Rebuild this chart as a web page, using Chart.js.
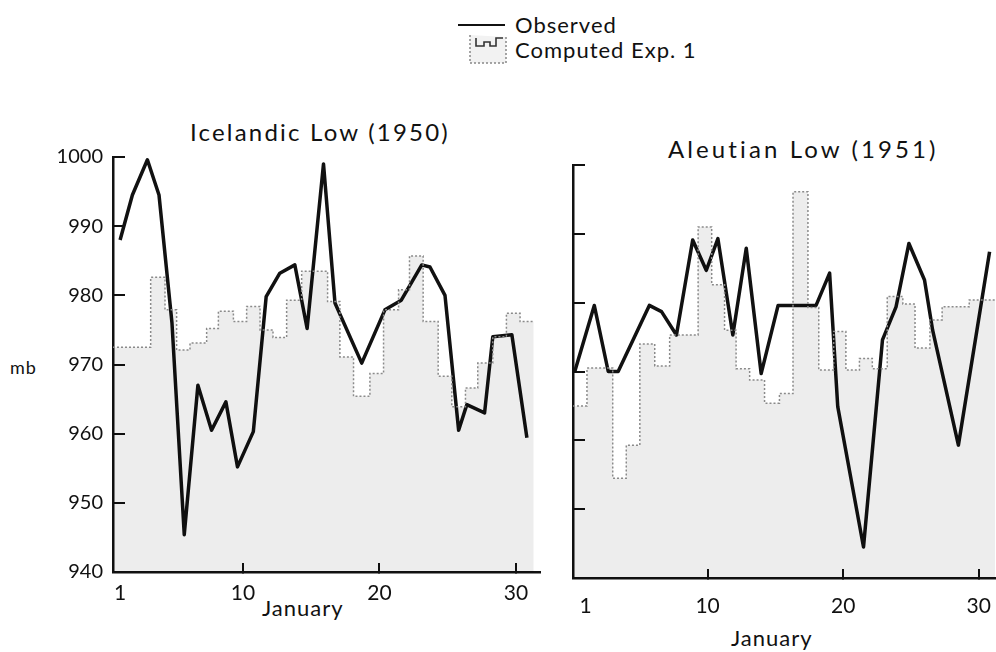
<!DOCTYPE html>
<html lang="en">
<head>
    <meta charset="UTF-8">
    <title>Icelandic Low and Aleutian Low, January</title>
    <style>
        body {
            margin: 0;
            width: 996px;
            height: 652px;
            background: #fff;
            position: relative;
            overflow: hidden;
            font-family: 'Lato', 'DejaVu Sans', sans-serif;
            color: #111;
        }
        .panel {
            position: absolute;
            top: 0;
        }
        .txt {
            position: absolute;
            white-space: nowrap;
            line-height: 1;
        }
        .title { font-size: 24px; }
        .xlabel { font-size: 22px; letter-spacing: 1px; }
        .legend { font-size: 22px; letter-spacing: 1px; }
    </style>
    <script src="https://cdn.jsdelivr.net/npm/chart.js"></script>
</head>
<body>
    <!-- legend -->
    <div class="txt" style="left:458px; top:24px; width:47px; border-top:2px solid #111;"></div>
    <div class="txt legend" style="left:515px; top:14px;">Observed</div>
    <svg class="txt" style="left:466px; top:33px;" width="44" height="32">
        <path d="M4 2 L4 30 L40 30 L40 4" fill="#f2f2f2" stroke="#888" stroke-width="1.5" stroke-dasharray="2 2"/>
        <path d="M10 5 L10 13 L18 13 L18 9 L24 9 L24 13 L30 13 L30 5 L37 5" fill="none" stroke="#333" stroke-width="1.6"/>
    </svg>
    <div class="txt legend" style="left:515px; top:39px;">Computed Exp. 1</div>

    <div class="txt title" style="left:190px; top:120px; letter-spacing:2.2px;">Icelandic Low (1950)</div>
    <div class="txt title" style="left:668px; top:137px; letter-spacing:3.1px;">Aleutian Low (1951)</div>
    <div class="txt xlabel" style="left:10px; top:358px; font-size:18px;">mb</div>
    <div class="txt xlabel" style="left:262px; top:597px;">January</div>
    <div class="txt xlabel" style="left:731px; top:627px;">January</div>

    <div class="panel" style="left:0;"><canvas id="icelandic" width="550" height="652"></canvas></div>
    <div class="panel" style="left:550px;"><canvas id="aleutian" width="446" height="652"></canvas></div>

    <script>
        // tick labels
        const yTicks = [940, 950, 960, 970, 980, 990, 1000];
        const xTicks = [1, 10, 20, 30];

        // Icelandic Low (1950), observed (day, mb)
        const iceObsDays = [1.0, 1.9, 3.0, 3.85, 4.8, 5.7, 6.7, 7.7, 8.75, 9.6, 10.76, 11.7, 12.7, 13.8, 14.7,
            15.9, 16.74, 18.7, 20.4, 21.6, 23.1, 23.7, 24.8, 25.8, 26.4, 27.7, 28.3, 29.7, 30.8];
        const iceObsValues = [988, 994.5, 999.6, 994.5, 976, 945.4, 967, 960.5, 964.6, 955.2, 960.3, 979.8, 983.2, 984.4, 975.2,
            999, 978.9, 970.2, 977.9, 979.3, 984.4, 984.1, 980, 960.5, 964.2, 963, 974, 974.3, 959.4];

        // Icelandic Low (1950), computed Exp. 1: step start day and value
        const iceCompDays = [0.48, 3.24, 4.29, 5.14, 6.12, 7.34, 8.2, 9.3, 10.27, 11.25, 12.2, 13.2, 14.3, 16.2,
            17.1, 18.1, 19.3, 20.3, 21.4, 22.2, 23.2, 24.3, 25.3, 26.3, 27.2, 28.3, 29.3, 30.3, 31.3];
        const iceCompValues = [972.5, 982.6, 977.9, 972.1, 973.1, 975.2, 977.7, 976.2, 978.4, 975, 973.9, 979.3, 983.5, 979.1,
            971.1, 965.4, 968.7, 977.9, 980.8, 985.7, 976.2, 968.3, 963.9, 966.6, 970.2, 974, 977.4, 976.2, 976.2];

        // Aleutian Low (1951), observed
        const aleObsDays = [0.2, 1.64, 2.67, 3.4, 5.7, 6.6, 7.7, 8.9, 9.9, 10.76, 11.86, 12.85, 13.95, 15.2,
            18.0, 19.0, 19.6, 21.5, 22.9, 23.9, 24.85, 26.0, 26.6, 28.5, 30.8];
        const aleObsValues = [970, 979.6, 970, 970, 979.6, 978.7, 975.3, 989.1, 984.7, 989.3, 975.3, 987.9, 969.7, 979.6,
            979.6, 984.3, 964.9, 944.5, 974.6, 979.4, 988.6, 983.3, 976, 959.3, 987.4];

        // Aleutian Low (1951), computed Exp. 1
        const aleCompDays = [0.07, 1.1, 3.0, 4.0, 5.0, 6.1, 7.2, 9.3, 10.3, 11.25, 12.1, 13.1, 14.2, 15.3, 16.3,
            17.4, 18.2, 19.3, 20.2, 21.2, 22.15, 23.25, 24.4, 25.3, 26.4, 27.3, 29.3, 31.2];
        const aleCompValues = [965, 970.5, 954.5, 959.3, 974, 970.8, 975.3, 991, 982.6, 976, 970.4, 968.75, 965.4, 966.8, 996.1,
            979.3, 970.2, 975.8, 970.2, 971.9, 970.4, 980.9, 979.8, 973.4, 977.5, 979.4, 980.4, 980.4];

        const toPoints = (xs, ys) => xs.map((x, i) => ({ x: x, y: ys[i] }));

        function makeChart(id, cfg) {
            const ctx = document.getElementById(id).getContext('2d');
            return new Chart(ctx, {
                type: 'line',
                data: {
                    datasets: [{
                        label: 'Computed Exp. 1',
                        data: toPoints(cfg.compDays, cfg.compValues),
                        stepped: true,
                        borderColor: '#8a8a8a',
                        borderWidth: 1.5,
                        borderDash: [2, 2],
                        backgroundColor: 'rgba(0,0,0,0.07)',
                        fill: 'start',
                        pointRadius: 0
                    }, {
                        label: 'Observed',
                        data: toPoints(cfg.obsDays, cfg.obsValues),
                        borderColor: '#111',
                        borderWidth: 3.5,
                        borderJoinStyle: 'round',
                        fill: false,
                        pointRadius: 0,
                        tension: 0
                    }]
                },
                options: {
                    responsive: false,
                    animation: false,
                    layout: { padding: { top: cfg.top, right: cfg.right, left: 0, bottom: 0 } },
                    plugins: { legend: { display: false }, tooltip: { enabled: false } },
                    scales: {
                        x: {
                            type: 'linear',
                            min: cfg.xMin,
                            max: cfg.xMax,
                            afterBuildTicks: (s) => { s.ticks = xTicks.map(v => ({ value: v })); },
                            afterFit: (s) => {
                                s.height = cfg.xHeight;
                                s.paddingLeft = 0;
                                s.paddingRight = 0;
                            },
                            border: { display: true, color: '#111', width: 2.5 },
                            grid: {
                                drawOnChartArea: false,
                                tickLength: -9,
                                lineWidth: 2,
                                color: (c) => (c.tick && c.tick.value === 1) ? 'rgba(0,0,0,0)' : '#111'
                            },
                            ticks: {
                                padding: cfg.xPad,
                                maxRotation: 0,
                                color: '#111',
                                font: { family: 'Lato', size: 21 },
                                callback: (v) => String(v)
                            }
                        },
                        y: {
                            min: 940,
                            max: 1000,
                            afterBuildTicks: (s) => { s.ticks = yTicks.map(v => ({ value: v })); },
                            afterFit: (s) => { s.width = cfg.yWidth; },
                            border: { display: true, color: '#111', width: 2.5 },
                            grid: {
                                drawOnChartArea: false,
                                tickLength: -12,
                                lineWidth: 2,
                                color: '#111'
                            },
                            ticks: {
                                display: cfg.yLabels,
                                padding: 22,
                                color: '#111',
                                font: { family: 'Lato', size: 20 },
                                callback: (v) => String(v)
                            }
                        }
                    }
                }
            });
        }

        makeChart('icelandic', {
            obsDays: iceObsDays, obsValues: iceObsValues,
            compDays: iceCompDays, compValues: iceCompValues,
            top: 157, right: 10, xMin: 0.48, xMax: 31.76,
            xHeight: 80, xPad: 18, yWidth: 113, yLabels: true
        });

        makeChart('aleutian', {
            obsDays: aleObsDays, obsValues: aleObsValues,
            compDays: aleCompDays, compValues: aleCompValues,
            top: 165, right: 1, xMin: 0.07, xMax: 31.2,
            xHeight: 74, xPad: 25, yWidth: 23, yLabels: false
        });
    </script>
</body>
</html>
